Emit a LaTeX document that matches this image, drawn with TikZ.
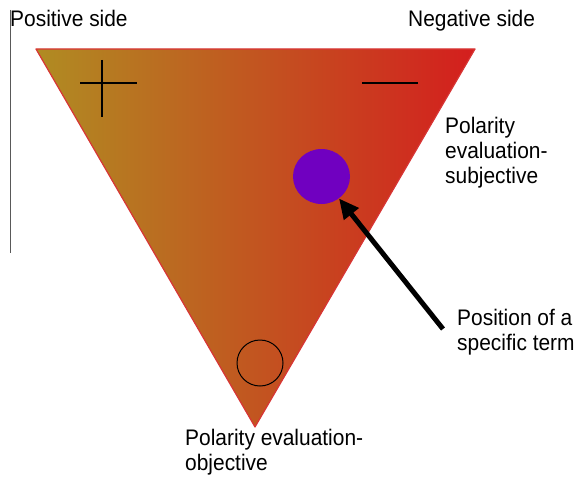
\documentclass[tikz,border=0pt]{standalone}
\usepackage{fontspec}
\setmainfont{Liberation Sans}[FakeStretch=0.93]
\usetikzlibrary{arrows.meta,shapes.geometric}
\definecolor{poscol}{HTML}{B08C22}
\definecolor{negcol}{HTML}{D41E1E}
\definecolor{termcol}{HTML}{7000C0}
\tikzset{
	lbl/.style={inner sep=0pt, anchor=base west, align=left, font=\fontsize{22.5}{25}\selectfont},
	sign/.style={line width=1.6pt, black}
}
\begin{document}
\begin{tikzpicture}[x=1pt, y=-1pt, line join=round, >=stealth]
			\useasboundingbox (0,0) rectangle (580,500);
			% triangle
			\coordinate (tl) at (36,49);
			\coordinate (tr) at (475,49);
			\coordinate (bt) at (255,427);
			\shade[left color=poscol, right color=negcol] (tl) -- (tr) -- (bt) -- cycle;
			\draw[negcol!90!white, line width=1.2pt] (tl) -- (tr) -- (bt) -- cycle;
			\draw[gray!70!black, line width=1pt] (10,10) -- (10,253);
			% signs
			\draw[sign] (80,83) -- (137,83) (102,60) -- (102,117);
			\draw[sign] (362,83) -- (418,83);
			\node (zero) [circle, draw, line width=1pt, minimum size=46pt, inner sep=0pt] at (260,363) {};
			\node (dot) [ellipse, fill=termcol, minimum width=57pt, minimum height=55pt, inner sep=0pt] at (321.5,176.5) {};
			% labels
			\node (pos) [lbl] at (10,26.5) {Positive side};
			\node (neg) [lbl] at (408,26.5) {Negative side};
			\node (subj) [lbl] at (445,183) {Polarity\\evaluation-\\subjective};
			\node (term) [lbl] at (457,350) {Position of a\\specific term};
			\node (obj) [lbl] at (185,470) {Polarity evaluation-\\objective};
			\coordinate (tail) at (443,329);
			\draw[-{Triangle[length=20pt, width=18pt]}, line width=5pt] (tail) -- (dot);
		\end{tikzpicture}
\end{document}
